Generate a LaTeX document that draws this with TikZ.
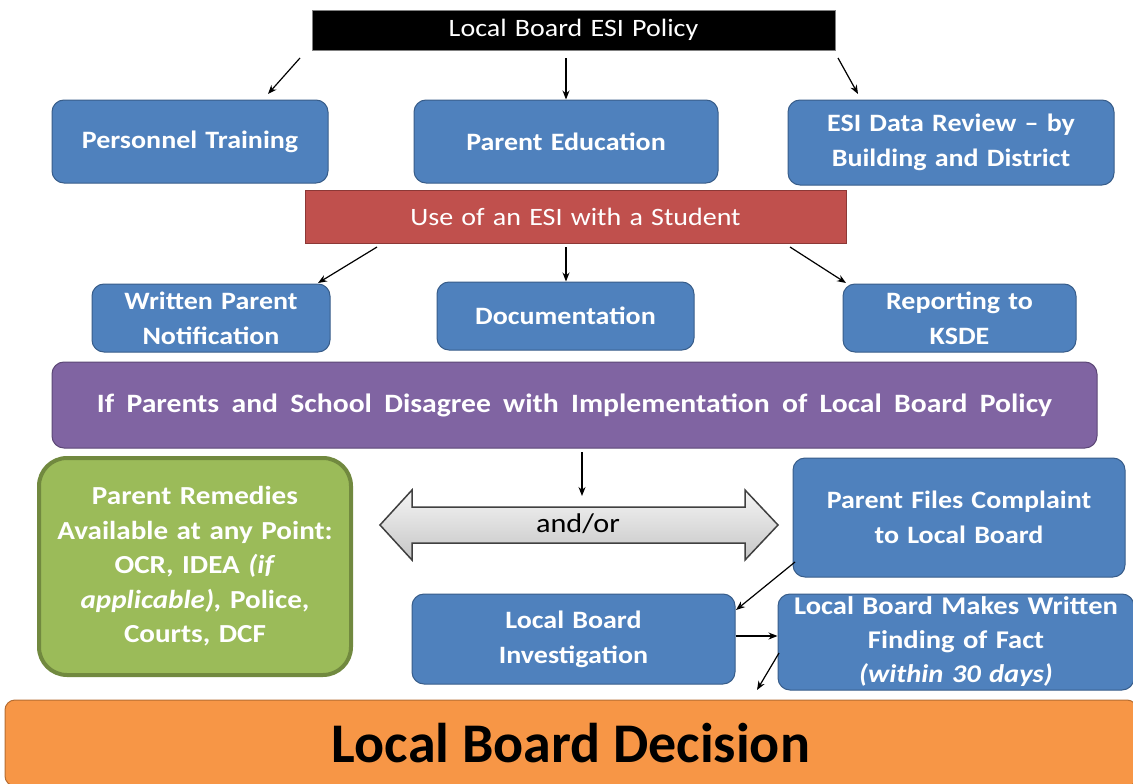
\documentclass[tikz,border=0pt]{standalone}
\usepackage{fontspec}
\setmainfont{Carlito}[FakeStretch=1.12, WordSpace=1.3]
\newfontfamily\widesp{Carlito}[FakeStretch=1.12, WordSpace=1.83]
\newfontfamily\plainfam{Carlito}
\usetikzlibrary{arrows.meta}
\definecolor{bx}{HTML}{4F81BD}
\definecolor{bxd}{HTML}{385D8A}
\definecolor{rd}{HTML}{C0504D}
\definecolor{rdd}{HTML}{8C3836}
\definecolor{pu}{HTML}{8064A2}
\definecolor{pud}{HTML}{5C4776}
\definecolor{gr}{HTML}{9BBB59}
\definecolor{grd}{HTML}{71893F}
\definecolor{og}{HTML}{F79646}
\definecolor{ogd}{HTML}{B66D31}
\tikzset{
  bluebox/.style={rounded corners=12, fill=bx, draw=bxd, line width=1pt, text=white, inner sep=0pt,
    font=\bfseries\fontsize{25}{35}\selectfont, align=center},
  conn/.style={-{Stealth[length=9pt,width=7pt]}, line width=1.2pt, black},
}
\begin{document}
\begin{tikzpicture}[x=1pt,y=-1pt]
\useasboundingbox (0,0) rectangle (1133,784);
\fill[white] (0,0) rectangle (1133,784);
% top
\node[fill=black, draw=gray, inner sep=0pt, minimum width=523, minimum height=40, text=white,
  font=\fontsize{25}{30}\selectfont] (pol) at (573.5,30) {Local Board ESI Policy};
\node[bluebox, minimum width=276, minimum height=83] (pt) at (190,141.5) {Personnel Training};
\node[bluebox, minimum width=304, minimum height=83] (pe) at (566,141.5) {Parent Education};
\node[bluebox, minimum width=326, minimum height=85] (dr) at (951,142.5) {ESI Data Review -- by\\Building and District};
\coordinate (a1s) at (300,58); \coordinate (a1e) at (268,94);
\coordinate (a3s) at (838,58); \coordinate (a3e) at (858,94);
\draw[conn] (a1s) -- (a1e);
\draw[conn] (pol.south) ++(-7.5,8) -- (pe.north -| 566,0);
\draw[conn] (a3s) -- (a3e);
% red
\node[fill=rd, draw=rdd, line width=1pt, inner sep=0pt, minimum width=541, minimum height=53, text=white,
  font=\fontsize{25}{30}\selectfont] (use) at (575.5,216.5) {Use of an ESI with a Student};
\node[bluebox, minimum width=238, minimum height=68] (wpn) at (211,318) {Written Parent\\Notification};
\node[bluebox, minimum width=257, minimum height=68] (doc) at (565.5,316) {Documentation};
\node[bluebox, minimum width=233, minimum height=68] (rep) at (959.5,318) {Reporting to\\KSDE};
\coordinate (b1s) at (377,247); \coordinate (b1e) at (318,283);
\coordinate (b2s) at (566,247); \coordinate (b3s) at (790,247); \coordinate (b3e) at (846,283);
\draw[conn] (b1s) -- (b1e);
\draw[conn] (b2s) -- (doc.north -| b2s);
\draw[conn] (b3s) -- (b3e);
% purple
\node[rounded corners=12, fill=pu, draw=pud, line width=1pt, inner sep=0pt, minimum width=1045, minimum height=86,
  text=white, font=\widesp\bfseries\fontsize{26.5}{30}\selectfont] (dis) at (574.5,405) {If Parents and School Disagree with Implementation of Local Board Policy};
% green
\node[rounded corners=28, fill=gr, draw=grd, line width=4pt, inner sep=0pt, minimum width=312, minimum height=217,
  text=white, align=center, font=\bfseries\fontsize{26}{34.5}\selectfont] (rem) at (195,566.5)
  {Parent Remedies\\Available at any Point:\\OCR, IDEA \textit{(if}\\\textit{applicable),} Police,\\Courts, DCF};
% double arrow
\shade[top color=gray!8, bottom color=gray!45, draw=black!75, line width=1.5pt]
  (380,525) -- (412,490) -- (412,507) -- (745,507) -- (745,490) -- (778,525) -- (745,560) -- (745,543) -- (412,543) -- (412,560) -- cycle;
\node[font=\fontsize{27}{30}\selectfont, text=black] (ao) at (578,524) {and/or};
\coordinate (c1s) at (582,452);
\draw[conn] (c1s) -- (582,496);
% right side
\node[bluebox, minimum width=332, minimum height=119] (pfc) at (959,517.5) {Parent Files Complaint\\to Local Board};
\node[bluebox, minimum width=323, minimum height=90] (inv) at (573.5,639) {Local Board\\Investigation};
\node[bluebox, minimum width=356, minimum height=96, font=\bfseries\fontsize{25.5}{34}\selectfont] (wf) at (956,642)
  {Local Board Makes Written\\Finding of Fact\\\textit{(within 30 days)}};
\coordinate (d1s) at (795,562);
\draw[conn] (d1s) -- (736,610);
\draw[conn] (inv.east |- 0,636) -- (wf.west |- 0,636);
\coordinate (d3s) at (779,653); \coordinate (d3e) at (757,690);
\draw[conn] (d3s) -- (d3e);
% orange
\node[rounded corners=10, fill=og, draw=ogd, line width=1pt, inner sep=0pt, minimum width=1132, minimum height=86,
  text=black, font=\plainfam\bfseries\fontsize{56}{60}\selectfont] (dec) at (571,743) {Local Board Decision};
\end{tikzpicture}
\end{document}
